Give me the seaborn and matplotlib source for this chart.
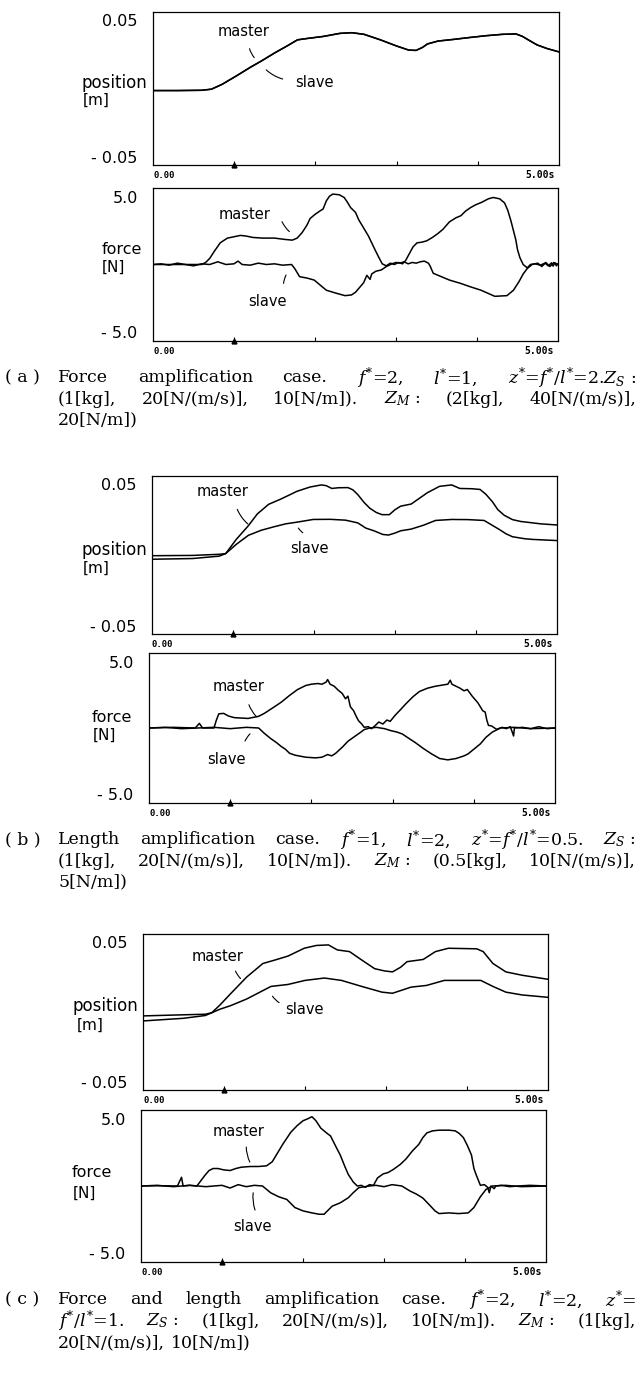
import matplotlib
matplotlib.use("Agg")
import matplotlib.pyplot as plt
import seaborn as sns

# ---- data: (time [s], value) pairs ----
# (a) force amplification
a_master_pos = [(0.0, -0.0015), (0.3, -0.0015), (0.6, -0.0013), (0.72, -0.0005), (0.85, 0.003),
                (1.03, 0.0093), (1.2, 0.0155), (1.33, 0.0199), (1.5, 0.026), (1.65, 0.031),
                (1.78, 0.0355), (1.9, 0.0365), (2.1, 0.038), (2.3, 0.0402), (2.45, 0.0407),
                (2.6, 0.0395), (2.8, 0.0355), (3.0, 0.031), (3.15, 0.028), (3.24, 0.0278),
                (3.32, 0.030), (3.38, 0.0325), (3.51, 0.0346), (3.7, 0.0358), (3.9, 0.0372),
                (4.1, 0.0385), (4.3, 0.0395), (4.47, 0.0398), (4.55, 0.038), (4.65, 0.0345),
                (4.73, 0.0318), (4.85, 0.0292), (5.0, 0.0267)]
a_slave_pos = [(0.0, -0.0015), (0.3, -0.0015), (0.6, -0.0013), (0.72, -0.0005), (0.85, 0.003),
               (1.03, 0.0093), (1.2, 0.0155), (1.33, 0.0199), (1.5, 0.026), (1.65, 0.031),
               (1.78, 0.0355), (1.9, 0.0365), (2.1, 0.038), (2.3, 0.0402), (2.45, 0.0407),
               (2.6, 0.0395), (2.8, 0.0355), (3.0, 0.031), (3.15, 0.028), (3.24, 0.0278),
               (3.32, 0.030), (3.38, 0.0325), (3.51, 0.0346), (3.7, 0.0358), (3.9, 0.0372),
               (4.1, 0.0385), (4.3, 0.0395), (4.47, 0.0398), (4.55, 0.038), (4.65, 0.0345),
               (4.73, 0.0318), (4.85, 0.0292), (5.0, 0.0267)]
a_master_force = [(0.0, 0.0), (0.6, 0.0), (0.65, 0.15), (0.7, 0.45), (0.76, 1.0), (0.83, 1.6),
                  (0.88, 1.8), (0.92, 1.95), (1.0, 2.05), (1.08, 2.15), (1.15, 2.1), (1.23, 2.0),
                  (1.35, 1.95), (1.5, 1.95), (1.63, 1.85), (1.72, 1.8), (1.78, 1.95), (1.84, 2.35),
                  (1.9, 2.9), (1.94, 3.4), (2.0, 3.7), (2.06, 3.95), (2.1, 4.1), (2.14, 4.7),
                  (2.18, 5.05), (2.22, 5.2), (2.3, 5.15), (2.36, 4.95), (2.4, 4.6), (2.44, 4.2),
                  (2.5, 3.85), (2.54, 3.3), (2.58, 2.9), (2.62, 2.5), (2.66, 2.1), (2.7, 1.6),
                  (2.74, 1.1), (2.79, 0.5), (2.83, 0.05), (2.88, -0.1), (2.93, 0.1), (2.98, 0.0),
                  (3.03, 0.15), (3.08, 0.05), (3.12, 0.3), (3.16, 0.75), (3.21, 1.3), (3.26, 1.6),
                  (3.32, 1.65), (3.38, 1.75), (3.45, 2.0), (3.52, 2.3), (3.58, 2.6), (3.66, 3.15),
                  (3.74, 3.45), (3.8, 3.6), (3.86, 3.95), (3.92, 4.2), (3.98, 4.4), (4.06, 4.6),
                  (4.14, 4.85), (4.2, 4.95), (4.28, 4.85), (4.34, 4.55), (4.38, 4.0), (4.42, 3.2),
                  (4.45, 2.5), (4.48, 1.8), (4.5, 1.1), (4.53, 0.5), (4.57, 0.0), (4.62, -0.25),
                  (4.66, 0.0), (4.72, 0.05), (4.78, -0.05), (4.84, 0.1), (4.88, -0.1), (4.92, 0.12),
                  (4.94, -0.12), (4.96, 0.12), (4.98, -0.1), (5.0, 0.05)]
a_slave_force = [(0.0, 0.0), (0.1, 0.05), (0.2, -0.05), (0.3, 0.1), (0.4, 0.0), (0.5, -0.1),
                 (0.6, 0.05), (0.7, 0.0), (0.8, 0.2), (0.9, 0.0), (1.0, 0.05), (1.05, 0.25),
                 (1.1, 0.0), (1.2, -0.05), (1.3, 0.1), (1.4, 0.0), (1.5, 0.05), (1.6, -0.05),
                 (1.71, 0.0), (1.75, -0.3), (1.81, -0.9), (1.9, -1.0), (1.99, -1.15), (2.06, -1.5),
                 (2.14, -1.9), (2.25, -2.1), (2.37, -2.3), (2.45, -2.25), (2.5, -2.05), (2.6, -1.35),
                 (2.64, -0.8), (2.68, -1.1), (2.7, -0.7), (2.75, -0.5), (2.82, -0.4), (2.88, -0.15),
                 (2.95, 0.05), (3.0, 0.15), (3.05, 0.1), (3.1, 0.2), (3.15, 0.05), (3.2, 0.15),
                 (3.25, 0.1), (3.3, 0.2), (3.35, 0.25), (3.4, 0.1), (3.42, -0.1), (3.46, -0.65),
                 (3.56, -0.9), (3.66, -1.15), (3.8, -1.4), (3.92, -1.65), (4.05, -1.9), (4.22, -2.35),
                 (4.37, -2.3), (4.45, -1.9), (4.52, -1.25), (4.57, -0.7), (4.62, -0.3), (4.68, 0.0),
                 (4.75, 0.1), (4.8, -0.15), (4.85, 0.15), (4.9, -0.15), (4.95, 0.15), (5.0, 0.0)]

# (b) length amplification
b_master_pos = [(0.0, -0.0005), (0.5, -0.0003), (0.83, 0.0005), (0.91, 0.001), (1.04, 0.011),
                (1.19, 0.0207), (1.3, 0.029), (1.44, 0.0358), (1.59, 0.0395), (1.7, 0.0425),
                (1.79, 0.045), (1.95, 0.048), (2.09, 0.0495), (2.15, 0.049), (2.22, 0.047),
                (2.3, 0.0475), (2.42, 0.0476), (2.48, 0.046), (2.54, 0.0427), (2.62, 0.037),
                (2.69, 0.033), (2.77, 0.030), (2.84, 0.0285), (2.93, 0.0285), (3.0, 0.032),
                (3.07, 0.0345), (3.2, 0.036), (3.3, 0.040), (3.4, 0.044), (3.55, 0.0485),
                (3.7, 0.0495), (3.8, 0.047), (3.95, 0.0468), (4.05, 0.0463), (4.12, 0.043),
                (4.2, 0.0378), (4.27, 0.032), (4.35, 0.028), (4.45, 0.025), (4.55, 0.0237),
                (4.8, 0.022), (5.0, 0.0212)]
b_slave_pos = [(0.0, -0.003), (0.5, -0.0025), (0.83, -0.0008), (0.91, 0.001), (1.04, 0.0075),
               (1.19, 0.0139), (1.35, 0.0175), (1.51, 0.02), (1.65, 0.022), (1.79, 0.0232),
               (1.99, 0.0251), (2.2, 0.0252), (2.39, 0.0246), (2.54, 0.0227), (2.64, 0.019),
               (2.74, 0.0171), (2.85, 0.0145), (2.92, 0.0141), (3.0, 0.0155), (3.07, 0.0171),
               (3.2, 0.0183), (3.35, 0.021), (3.5, 0.0244), (3.7, 0.0251), (3.9, 0.025),
               (4.1, 0.0244), (4.2, 0.021), (4.28, 0.0183), (4.37, 0.015), (4.45, 0.0129),
               (4.6, 0.0115), (4.7, 0.011), (5.0, 0.0102)]
b_master_force = [(0.0, 0.0), (0.3, 0.05), (0.57, 0.0), (0.62, 0.35), (0.66, 0.0), (0.8, 0.0),
                  (0.83, 0.6), (0.86, 1.07), (0.92, 1.1), (0.98, 0.9), (1.05, 0.78), (1.22, 0.72),
                  (1.35, 0.88), (1.42, 1.1), (1.52, 1.5), (1.63, 1.95), (1.73, 2.45), (1.83, 2.9),
                  (1.93, 3.2), (2.0, 3.3), (2.08, 3.35), (2.13, 3.3), (2.18, 3.45), (2.2, 3.65),
                  (2.23, 3.3), (2.28, 3.15), (2.33, 2.85), (2.38, 2.6), (2.42, 2.2), (2.45, 2.4),
                  (2.48, 1.6), (2.52, 1.3), (2.55, 0.9), (2.58, 0.55), (2.62, 0.3), (2.65, 0.05),
                  (2.7, 0.1), (2.74, -0.05), (2.78, 0.15), (2.83, 0.45), (2.88, 0.3), (2.93, 0.6),
                  (2.97, 0.5), (3.03, 0.95), (3.1, 1.4), (3.16, 1.8), (3.25, 2.35), (3.33, 2.75),
                  (3.43, 3.0), (3.53, 3.15), (3.63, 3.25), (3.68, 3.3), (3.71, 3.6), (3.73, 3.3),
                  (3.78, 3.15), (3.83, 3.0), (3.88, 2.8), (3.92, 2.9), (3.98, 2.4), (4.05, 1.9),
                  (4.11, 1.3), (4.14, 1.2), (4.16, 0.6), (4.18, 0.2), (4.22, 0.15), (4.28, -0.1),
                  (4.35, 0.05), (4.4, -0.05), (4.45, 0.1), (4.49, -0.6), (4.5, 0.0), (4.6, 0.05),
                  (4.7, -0.05), (4.8, 0.1), (4.9, -0.05), (5.0, 0.0)]
b_slave_force = [(0.0, 0.0), (0.2, 0.05), (0.4, -0.05), (0.6, 0.0), (0.8, 0.05), (1.0, -0.05),
                 (1.2, 0.05), (1.35, 0.0), (1.42, -0.4), (1.5, -0.8), (1.57, -1.1), (1.63, -1.4),
                 (1.68, -1.6), (1.73, -1.9), (1.8, -2.05), (1.93, -2.2), (2.05, -2.25), (2.13, -2.2),
                 (2.2, -2.0), (2.25, -2.1), (2.3, -1.9), (2.38, -1.45), (2.45, -1.0), (2.53, -0.65),
                 (2.6, -0.35), (2.65, -0.12), (2.72, 0.0), (2.8, 0.05), (2.9, -0.05), (2.98, -0.2),
                 (3.05, -0.3), (3.12, -0.45), (3.18, -0.7), (3.28, -1.1), (3.38, -1.55), (3.48, -1.95),
                 (3.58, -2.3), (3.68, -2.4), (3.78, -2.3), (3.88, -2.1), (3.93, -1.95), (4.0, -1.6),
                 (4.08, -1.2), (4.15, -0.7), (4.23, -0.3), (4.33, 0.0), (4.5, 0.05), (4.7, -0.05),
                 (5.0, 0.0)]

# (c) force and length amplification
c_master_pos = [(0.0, -0.0028), (0.5, -0.002), (0.77, -0.0016), (0.85, -0.0005), (0.95, 0.005),
                (1.08, 0.013), (1.28, 0.025), (1.48, 0.0347), (1.63, 0.0372), (1.79, 0.040),
                (1.99, 0.0456), (2.14, 0.0476), (2.29, 0.048), (2.35, 0.046), (2.4, 0.0444),
                (2.55, 0.0432), (2.7, 0.0372), (2.86, 0.031), (2.98, 0.0294), (3.08, 0.0287),
                (3.18, 0.032), (3.26, 0.036), (3.46, 0.0376), (3.61, 0.0432), (3.77, 0.0456),
                (4.12, 0.0452), (4.2, 0.0432), (4.32, 0.0347), (4.48, 0.0287), (4.68, 0.0263),
                (5.0, 0.0234)]
c_slave_pos = [(0.0, -0.0064), (0.5, -0.0045), (0.77, -0.0025), (0.85, -0.0005), (0.95, 0.002),
               (1.08, 0.0045), (1.28, 0.0093), (1.58, 0.0183), (1.79, 0.0197), (2.0, 0.0226),
               (2.24, 0.0243), (2.45, 0.0226), (2.7, 0.0183), (2.95, 0.0142), (3.08, 0.0134),
               (3.31, 0.0178), (3.5, 0.019), (3.72, 0.0226), (4.17, 0.0226), (4.32, 0.0183),
               (4.48, 0.0142), (4.68, 0.0122), (5.0, 0.0105)]
c_master_force = [(0.0, 0.0), (0.2, 0.02), (0.45, 0.0), (0.5, 0.65), (0.52, 0.0), (0.6, 0.05),
                  (0.69, 0.0), (0.74, 0.4), (0.79, 0.8), (0.84, 1.15), (0.89, 1.3), (0.95, 1.3),
                  (1.02, 1.2), (1.1, 1.15), (1.17, 1.3), (1.24, 1.4), (1.35, 1.45), (1.45, 1.45),
                  (1.55, 1.5), (1.62, 1.8), (1.7, 2.6), (1.75, 3.1), (1.85, 4.0), (1.93, 4.5),
                  (2.0, 4.85), (2.06, 5.0), (2.11, 5.15), (2.16, 4.85), (2.22, 4.3), (2.26, 4.1),
                  (2.3, 3.9), (2.34, 3.72), (2.4, 3.0), (2.46, 2.3), (2.52, 1.4), (2.56, 0.85),
                  (2.62, 0.3), (2.67, 0.0), (2.72, 0.05), (2.77, -0.1), (2.82, 0.1), (2.87, 0.05),
                  (2.92, 0.6), (2.99, 0.9), (3.05, 1.0), (3.12, 1.25), (3.2, 1.6), (3.27, 2.0),
                  (3.35, 2.6), (3.43, 3.1), (3.48, 3.6), (3.53, 3.95), (3.6, 4.1), (3.68, 4.15),
                  (3.8, 4.15), (3.88, 4.1), (3.93, 3.9), (3.98, 3.6), (4.03, 3.0), (4.08, 2.3),
                  (4.11, 1.3), (4.14, 0.8), (4.19, 0.05), (4.24, 0.1), (4.28, -0.1), (4.3, -0.5),
                  (4.32, 0.0), (4.36, -0.2), (4.38, 0.0), (4.45, 0.05), (4.55, -0.05), (4.65, 0.0),
                  (4.8, 0.05), (5.0, 0.0)]
c_slave_force = [(0.0, 0.0), (0.2, 0.05), (0.4, -0.05), (0.6, 0.05), (0.8, -0.05), (1.0, 0.05),
                 (1.1, -0.15), (1.2, 0.1), (1.3, -0.05), (1.4, 0.05), (1.5, 0.0), (1.6, -0.5),
                 (1.7, -0.8), (1.8, -1.0), (1.9, -1.6), (2.0, -1.85), (2.11, -2.0), (2.2, -2.1),
                 (2.26, -2.1), (2.31, -1.8), (2.36, -1.5), (2.46, -1.25), (2.56, -0.87), (2.62, -0.5),
                 (2.69, -0.12), (2.82, 0.0), (2.9, 0.05), (3.0, -0.05), (3.1, 0.1), (3.22, 0.0),
                 (3.32, -0.37), (3.4, -0.6), (3.48, -0.9), (3.56, -1.4), (3.63, -1.85), (3.68, -2.05),
                 (3.8, -2.0), (3.92, -2.05), (4.04, -2.0), (4.11, -1.6), (4.15, -1.2), (4.19, -0.8),
                 (4.26, -0.25), (4.34, 0.0), (4.5, 0.05), (4.7, -0.05), (5.0, 0.0)]

tick_times = [1, 2, 3, 4]
pos_ticks = [-0.05, 0.05]
pos_ticklabels = ["- 0.05", "0.05"]
force_ticks = [-5.0, 5.0]
force_ticklabels = ["- 5.0", "5.0"]

# label text position, leader start, leader end (data coords) for master / slave
a_pos_notes = [((1.11, 0.0414), (1.18, 0.031), (1.27, 0.021)), ((1.99, 0.0044), (1.37, 0.015), (1.63, 0.0064))]
a_force_notes = [((1.13, 3.67), (1.58, 3.35), (1.71, 2.3)), ((1.41, -2.7), (1.66, -0.6), (1.61, -1.6))]
b_pos_notes = [((0.87, 0.0446), (1.04, 0.0341), (1.21, 0.0207)), ((1.94, 0.0044), (1.79, 0.0207), (1.89, 0.0146))]
b_force_notes = [((1.1, 3.1), (1.22, 1.95), (1.35, 0.7)), ((0.95, -2.35), (1.27, -0.3), (1.17, -1.18))]
c_pos_notes = [((0.92, 0.0396), (1.13, 0.0311), (1.23, 0.0226)), ((1.99, 0.002), (1.58, 0.013), (1.71, 0.0057))]
c_force_notes = [((1.21, 4.04), (1.3, 3.1), (1.36, 1.6)), ((1.37, -2.98), (1.39, -0.3), (1.42, -1.98))]

# ---- page layout in pixels ----
W, H = 641, 1373
sns.set_theme(style="white")
plt.rcParams["font.family"] = ["DejaVu Sans"]
plt.rcParams["mathtext.fontset"] = "dejavuserif"

fig = plt.figure(figsize=(W / 100, H / 100), dpi=100)
fig.patch.set_facecolor("white")


def add_panel(box, master, slave, kind, notes, name_dx, unit_dx, name_y, unit_y):
    left, top, right, bottom = box
    ax = fig.add_axes([left / W, 1 - bottom / H, (right - left) / W, (bottom - top) / H])
    for series in (slave, master):
        sns.lineplot(x=[p[0] for p in series], y=[p[1] for p in series], ax=ax,
                     color="black", lw=1.1, estimator=None, sort=False)
    if kind == "pos":
        lim, ticks, labels, name, unit = 0.0558, pos_ticks, pos_ticklabels, "position", "[m]"
    else:
        lim, ticks, labels, name, unit = 5.65, force_ticks, force_ticklabels, "force", "[N]"
    ax.set_xlim(0, 5.0)
    ax.set_ylim(-lim, lim)
    ax.set_xticks(tick_times)
    ax.set_xticklabels([])
    ax.set_yticks(ticks)
    ax.set_yticklabels(labels)
    ax.set_xlabel("")
    ax.set_ylabel("")
    ax.tick_params(axis="x", direction="in", length=3, width=0.8, bottom=True, color="black")
    ax.tick_params(axis="y", length=0, pad=11, labelsize=11.5, labelcolor="black")
    for sp in ax.spines.values():
        sp.set_color("black")
        sp.set_linewidth(0.9)
    ax.plot([tick_times[0]], [-lim], marker="^", ms=3.5, color="black", clip_on=False)
    width = right - left
    if kind == "pos":
        ax.text(-name_dx / width, name_y, name, transform=ax.transAxes, ha="right", va="center",
                fontsize=12, color="black")
    else:
        ax.text(-name_dx / width, name_y, name, transform=ax.transAxes, ha="left", va="center",
                fontsize=11.5, color="black")
    ax.text(-unit_dx / width, unit_y, unit, transform=ax.transAxes, ha="left", va="center",
            fontsize=11, color="black")
    ax.annotate("0.00", xy=(0, 0), xycoords="axes fraction", xytext=(0, -7.5),
                textcoords="offset points", ha="left", va="center", fontsize=6.5,
                family="DejaVu Sans Mono", weight="bold", color="black")
    ax.annotate("5.00s", xy=(1, 0), xycoords="axes fraction", xytext=(-3, -7.5),
                textcoords="offset points", ha="right", va="center", fontsize=7,
                family="DejaVu Sans Mono", weight="bold", color="black")
    for label, (txt, start, end) in zip(["master", "slave"], notes):
        ax.text(txt[0], txt[1], label, ha="center", va="center", fontsize=10.5, color="black")
        ax.annotate("", xy=end, xytext=start,
                    arrowprops=dict(arrowstyle="-", color="black", lw=0.8,
                                    connectionstyle="arc3,rad=0.15"))
    return ax


add_panel((153, 12, 559, 165), a_master_pos, a_slave_pos, "pos", a_pos_notes, 6, 70, 0.535, 0.425)
add_panel((153, 188, 558, 341), a_master_force, a_slave_force, "force", a_force_notes, 51, 51, 0.595, 0.484)
add_panel((152, 476, 557, 634), b_master_pos, b_slave_pos, "pos", b_pos_notes, 5, 69, 0.532, 0.418)
add_panel((149, 653, 555, 803), b_master_force, b_slave_force, "force", b_force_notes, 57, 56, 0.573, 0.453)
add_panel((143, 934, 548, 1090), c_master_pos, c_slave_pos, "pos", c_pos_notes, 5, 66, 0.54, 0.417)
add_panel((141, 1110, 546, 1262), c_master_force, c_slave_force, "force", c_force_notes, 69, 68, 0.586, 0.454)

# ---- captions (justified like the printed page) ----
cap_size = 12.5
renderer = fig.canvas.get_renderer()


def caption_line(tokens, y, justify=True, x0=58, x1=636):
    texts = [fig.text(0, 1 - y / H, t, fontsize=cap_size, family="DejaVu Serif",
                      va="center", ha="left", color="black") for t in tokens]
    widths = [t.get_window_extent(renderer).width for t in texts]
    gap = (x1 - x0 - sum(widths)) / (len(texts) - 1) if justify and len(texts) > 1 else 6
    x = x0
    for t, w in zip(texts, widths):
        t.set_x(x / W)
        x += w + gap


captions = [
    ("( a )", [378, 399, 420], [
        ["Force", "amplification", "case.", "$f^{*}$=2,", "$l^{*}$=1,", "$z^{*}$=$f^{*}$/$l^{*}$=2.$Z_S$ :"],
        ["(1[kg],", "20[N/(m/s)],", "10[N/m]).", "$Z_M$ :", "(2[kg],", "40[N/(m/s)],"],
        ["20[N/m])"]]),
    ("( b )", [840, 861, 882], [
        ["Length", "amplification", "case.", "$f^{*}$=1,", "$l^{*}$=2,", "$z^{*}$=$f^{*}$/$l^{*}$=0.5.", "$Z_S$ :"],
        ["(1[kg],", "20[N/(m/s)],", "10[N/m]).", "$Z_M$ :", "(0.5[kg],", "10[N/(m/s)],"],
        ["5[N/m])"]]),
    ("( c )", [1300, 1321, 1343], [
        ["Force", "and", "length", "amplification", "case.", "$f^{*}$=2,", "$l^{*}$=2,", "$z^{*}$="],
        ["$f^{*}$/$l^{*}$=1.", "$Z_S$ :", "(1[kg],", "20[N/(m/s)],", "10[N/m]).", "$Z_M$ :", "(1[kg],"],
        ["20[N/(m/s)],", "10[N/m])"]]),
]
for tag, ys, lines in captions:
    fig.text(5 / W, 1 - ys[0] / H, tag, fontsize=cap_size, family="DejaVu Serif",
             va="center", ha="left", color="black")
    for i, (tokens, y) in enumerate(zip(lines, ys)):
        caption_line(tokens, y, justify=(i < len(lines) - 1))

fig.savefig("out.png", dpi=100, facecolor="white")
